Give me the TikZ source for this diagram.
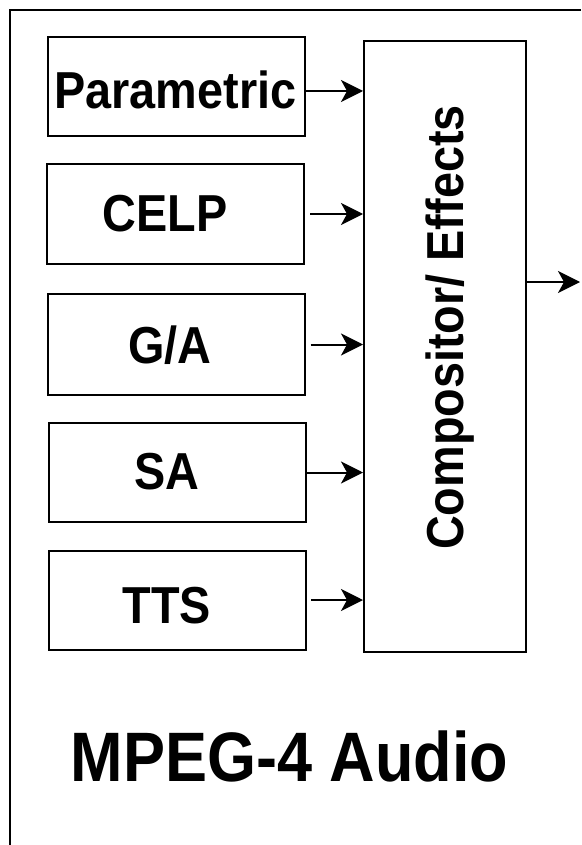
\documentclass[tikz,border=0pt]{standalone}
\usepackage{fontspec}
\setmainfont[FakeStretch=0.9]{Liberation Sans}
\usetikzlibrary{arrows.meta}
\tikzset{
  blk/.style={draw,line width=2pt,minimum width=257pt,minimum height=99pt,inner sep=0pt},
  lbl/.style={anchor=base,inner sep=0pt,font=\fontsize{52}{60}\selectfont\bfseries},
  arr/.style={-{Stealth[length=22pt,width=22pt,inset=6pt]},line width=2pt}
}
\begin{document}
\begin{tikzpicture}[x=1pt,y=-1pt]
\useasboundingbox (0,0) rectangle (581,845);
\draw [line width=2pt](581,10) -- (10,10) -- (10,845);
% coder boxes
\node[blk] (param) at (176.5,86.5) {};
\node[blk] (celp) at (175.5,214) {};
\node[blk,minimum height=101pt] (ga) at (176,344.5) {};
\node[blk] (sa) at (177.5,472.5) {};
\node[blk] (tts) at (177.5,600) {};
\node[lbl] (paramtxt) at (175.5,109) {Parametric};
\node[lbl] (celptxt) at (165,231) {CELP};
\node[lbl] (gatxt) at (170,363) {G/A};
\node[lbl] (satxt) at (167,489) {SA};
\node[lbl] (ttstxt) at (167,623) {TTS};
% compositor
\node[draw,line width=2pt,minimum width=162pt,minimum height=611pt,inner sep=0pt] (comp) at (445,346.5) {};
\node[lbl,rotate=90] (comptxt) at (463,327.5) {Compositor/ Effects};
\coordinate (out) at (580,282);
\draw[arr] ([yshift=-4.5pt]param.east) -- ([yshift=-4.5pt]param.east -| comp.west);
\draw[arr] ([xshift=5pt]celp.east) -- (celp.east -| comp.west);
\draw[arr] ([xshift=5pt]ga.east) -- (ga.east -| comp.west);
\draw[arr] (sa.east) -- (sa.east -| comp.west);
\draw[arr] ([xshift=4pt]tts.east) -- (tts.east -| comp.west);
\draw[arr] (comp.east |- out) -- (out);
\node[anchor=base,inner sep=0pt,font=\fontsize{70}{80}\selectfont\bfseries] (title) at (289.5,781) {MPEG-4 Audio};
\end{tikzpicture}
\end{document}
